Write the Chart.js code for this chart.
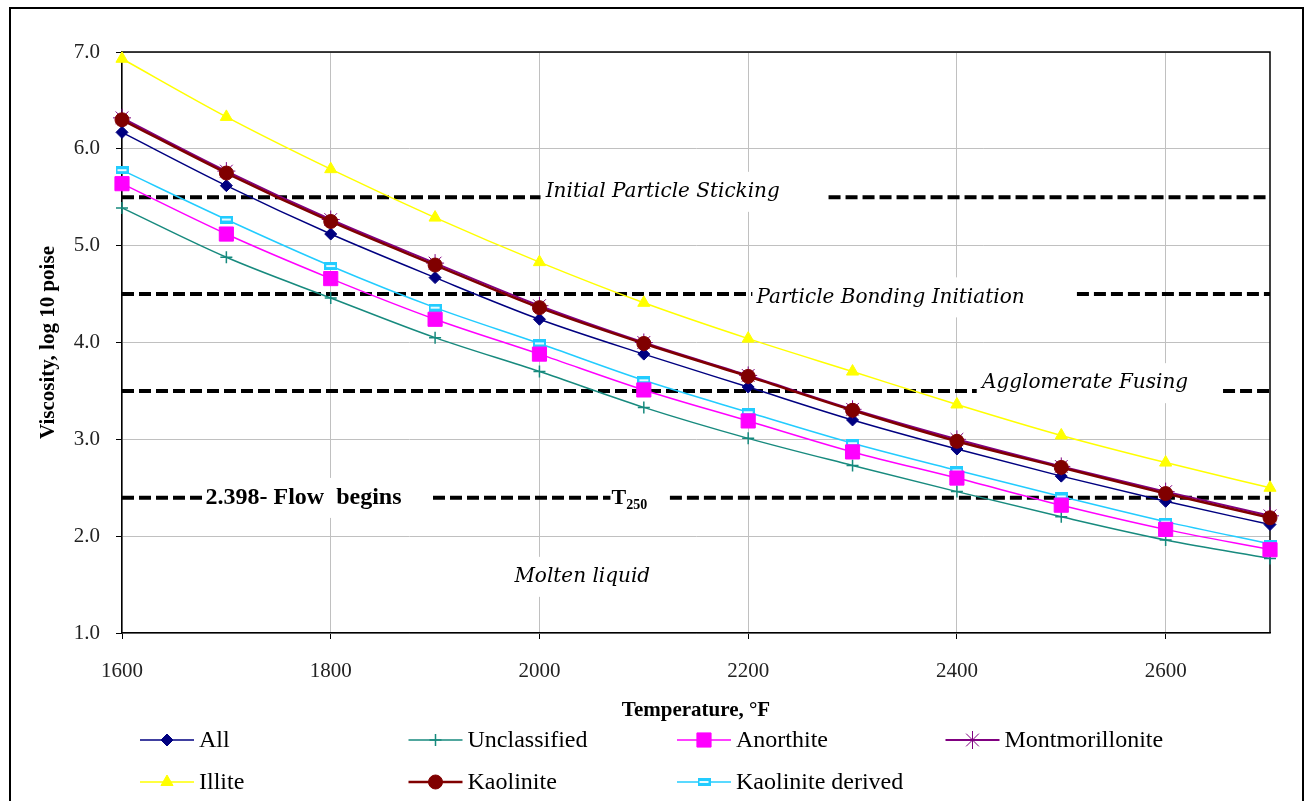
<!DOCTYPE html>
<html>
<head>
<meta charset="utf-8">
<title>Viscosity vs temperature</title>
<script src="https://cdn.jsdelivr.net/npm/chart.js@4/dist/chart.umd.min.js"></script>
<style>
  html, body { margin: 0; padding: 0; background: #fff; }
  #frame { position: absolute; left: 9px; top: 7px; width: 1291px; height: 800px; border: 2px solid #000; }
  canvas { position: absolute; left: 0; top: 0; }
</style>
</head>
<body>
<div id="frame"></div>
<canvas id="viscosityChart" width="1304" height="801"></canvas>
<script>
// temperatures, °F
const temps = [1600, 1700, 1800, 1900, 2000, 2100, 2200, 2300, 2400, 2500, 2600, 2700];

// viscosity, log10 poise
const allValues = [6.17, 5.62, 5.12, 4.67, 4.24, 3.88, 3.54, 3.20, 2.90, 2.62, 2.36, 2.12];
const unclassifiedValues = [5.39, 4.88, 4.46, 4.05, 3.70, 3.33, 3.01, 2.73, 2.46, 2.20, 1.96, 1.77];
const anorthiteValues = [5.64, 5.12, 4.66, 4.24, 3.88, 3.51, 3.19, 2.87, 2.60, 2.32, 2.07, 1.86];
const montmorilloniteValues = [6.32, 5.77, 5.27, 4.82, 4.38, 4.00, 3.66, 3.31, 3.00, 2.72, 2.46, 2.21];
const illiteValues = [6.93, 6.33, 5.79, 5.29, 4.83, 4.41, 4.04, 3.70, 3.36, 3.04, 2.76, 2.50];
const kaoliniteValues = [6.30, 5.75, 5.25, 4.80, 4.36, 3.99, 3.65, 3.30, 2.98, 2.71, 2.44, 2.19];
const kaoliniteDerivedValues = [5.78, 5.27, 4.79, 4.36, 3.99, 3.61, 3.28, 2.96, 2.68, 2.41, 2.15, 1.92];

const xTicks = [1600, 1800, 2000, 2200, 2400, 2600];
const yTicks = [1, 2, 3, 4, 5, 6, 7];

// threshold levels and their labels
const refLevels = [5.5, 4.5, 3.5, 2.398];
const refLabels = ['Initial Particle Sticking', 'Particle Bonding Initiation', 'Agglomerate Fusing', '2.398- Flow  begins'];

// where the dashes run (°F), gaps are left for the labels
const refSegments = [
  [[1600, 2001], [2277, 2700]],
  [[1600, 2204], [2515, 2700]],
  [[1600, 2419], [2655, 2700]],
  [[1600, 1678], [1898, 2068], [2125, 2700]]
];
const ITALIC = 'italic 20px "DejaVu Serif"';
const labelSpots = [
  { x: 2006, y: 5.556, font: ITALIC },
  { x: 2208, y: 4.466, font: ITALIC },
  { x: 2424, y: 3.58, font: ITALIC },
  { x: 1680, y: 2.395, font: 'bold 24px "Liberation Serif"' }
];

const SERIF = '"Liberation Serif", "Times New Roman", serif';

function barMarker() {
  const c = document.createElement('canvas');
  c.width = 13; c.height = 8;
  const g = c.getContext('2d');
  g.fillStyle = '#22ccff';
  g.fillRect(0, 0, 13, 8);
  g.fillStyle = '#e8fbff';
  g.fillRect(2, 3, 9, 2);
  return c;
}

function series(label, values, color, style, radius, extra) {
  return Object.assign({
    label: label,
    data: temps.map((t, i) => ({ x: t, y: values[i] })),
    borderColor: color,
    backgroundColor: color,
    pointBackgroundColor: color,
    pointBorderColor: color,
    borderWidth: 1.5,
    pointStyle: style,
    pointRadius: radius,
    pointBorderWidth: 1,
    cubicInterpolationMode: 'monotone',
    clip: false
  }, extra || {});
}

const datasets = [
  series('All', allValues, '#000080', 'rectRot', 6, { order: 3 }),
  series('Unclassified', unclassifiedValues, '#178a7e', 'cross', 6, { pointBorderWidth: 1.5, order: 6 }),
  series('Anorthite', anorthiteValues, '#ff00ff', 'rect', 10, { order: 4 }),
  series('Montmorillonite', montmorilloniteValues, '#800080', 'star', 9, { borderWidth: 2, order: 2 }),
  series('Illite', illiteValues, '#ffff00', 'triangle', 7, { order: 1 }),
  series('Kaolinite', kaoliniteValues, '#800000', 'circle', 7, { borderWidth: 2.5, order: 0 }),
  series('Kaolinite derived', kaoliniteDerivedValues, '#22ccff', barMarker(), 6, { order: 5 })
];

const annotations = {
  id: 'annotations',
  beforeDatasetsDraw(chart) {
    const { ctx, chartArea: a, scales: { x, y } } = chart;
    ctx.save();
    // top and right frame of the plot
    ctx.strokeStyle = '#000';
    ctx.lineWidth = 1.5;
    ctx.beginPath();
    ctx.moveTo(a.left, a.top);
    ctx.lineTo(a.right, a.top);
    ctx.lineTo(a.right, a.bottom);
    ctx.stroke();

    ctx.textBaseline = 'middle';
    ctx.textAlign = 'left';
    const boxes = [];
    labelSpots.forEach((s, i) => {
      ctx.font = s.font;
      boxes.push({ text: refLabels[i], font: s.font, px: x.getPixelForValue(s.x), py: y.getPixelForValue(s.y), w: ctx.measureText(refLabels[i]).width });
    });
    // T250 and molten liquid
    const tX = x.getPixelForValue(2069), tY = y.getPixelForValue(2.39);
    const mX = x.getPixelForValue(2041), mY = y.getPixelForValue(1.58);

    // white boxes behind labels
    ctx.fillStyle = '#fff';
    boxes.forEach(b => ctx.fillRect(b.px - 3, b.py - 20, b.w + 6, 40));
    ctx.fillRect(tX - 3, tY - 18, 46, 36);
    ctx.font = ITALIC;
    const mW = ctx.measureText('Molten liquid').width;
    ctx.fillRect(mX - mW / 2 - 4, mY - 20, mW + 8, 40);

    // dashed threshold lines
    ctx.strokeStyle = '#000';
    ctx.lineWidth = 4;
    ctx.setLineDash([12, 5]);
    refLevels.forEach((lv, i) => {
      const py = y.getPixelForValue(lv);
      refSegments[i].forEach(seg => {
        ctx.beginPath();
        ctx.moveTo(x.getPixelForValue(seg[0]), py);
        ctx.lineTo(x.getPixelForValue(seg[1]), py);
        ctx.stroke();
      });
    });
    ctx.setLineDash([]);

    ctx.fillStyle = '#000';
    boxes.forEach(b => { ctx.font = b.font; ctx.fillText(b.text, b.px, b.py); });
    ctx.font = 'bold 22px "Liberation Serif"';
    ctx.fillText('T', tX, tY);
    const tw = ctx.measureText('T').width;
    ctx.font = 'bold 14px "Liberation Serif"';
    ctx.fillText('250', tX + tw, tY + 7);
    ctx.font = ITALIC;
    ctx.textAlign = 'center';
    ctx.fillText('Molten liquid', mX, mY);
    ctx.restore();
  }
};

const gridLegend = {
  id: 'gridLegend',
  afterDraw(chart) {
    const ctx = chart.ctx;
    ctx.save();
    ctx.fillStyle = '#fff';
    ctx.fillRect(100, 721, 1190, 78);
    ctx.textBaseline = 'middle';
    ctx.textAlign = 'left';
    chart.data.datasets.forEach((ds, i) => {
      const col = i % 4, row = Math.floor(i / 4);
      const lx = 140 + col * 268.5, ly = 740 + row * 42;
      ctx.strokeStyle = ds.borderColor;
      ctx.lineWidth = ds.borderWidth;
      ctx.beginPath();
      ctx.moveTo(lx, ly);
      ctx.lineTo(lx + 54, ly);
      ctx.stroke();
      ctx.fillStyle = ds.pointBackgroundColor;
      ctx.strokeStyle = ds.pointBorderColor;
      ctx.lineWidth = ds.pointBorderWidth;
      if (Chart.helpers && Chart.helpers.drawPoint) {
        Chart.helpers.drawPoint(ctx, { pointStyle: ds.pointStyle, radius: ds.pointRadius, rotation: 0, borderWidth: ds.pointBorderWidth }, lx + 27, ly);
      }
      ctx.fillStyle = '#000';
      ctx.font = '24px ' + SERIF;
      ctx.fillText(ds.label, lx + 59, ly + 1);
    });
    ctx.restore();
  }
};

new Chart(document.getElementById('viscosityChart').getContext('2d'), {
  type: 'line',
  data: { datasets: datasets },
  options: {
    responsive: false,
    animation: false,
    events: [],
    layout: { padding: { left: 36, top: 52, right: 34, bottom: 78 } },
    plugins: { legend: { display: false }, tooltip: { enabled: false } },
    scales: {
      x: {
        type: 'linear',
        min: 1600,
        max: 2700,
        afterBuildTicks: s => { s.ticks = xTicks.map(v => ({ value: v })); },
        afterFit: s => { s.height = 90; },
        grid: { color: '#c0c0c0', tickColor: '#000', tickLength: 6, lineWidth: 1 },
        border: { color: '#000', width: 1.5 },
        ticks: { padding: 20, color: '#222', maxRotation: 0, font: { family: SERIF, size: 21 }, callback: v => String(v) },
        title: { display: true, text: 'Temperature, °F', color: '#000', padding: 0, font: { family: SERIF, size: 21, weight: 'bold' } }
      },
      y: {
        min: 1,
        max: 7,
        afterBuildTicks: s => { s.ticks = yTicks.map(v => ({ value: v })); },
        afterFit: s => { s.width = 86; },
        grid: { color: '#c0c0c0', tickColor: '#000', tickLength: 6, lineWidth: 1 },
        border: { color: '#000', width: 1.5 },
        ticks: { padding: 16, color: '#222', font: { family: SERIF, size: 21 }, callback: v => Number(v).toFixed(1) },
        title: { display: true, text: 'Viscosity, log 10 poise', color: '#000', padding: 0, font: { family: SERIF, size: 21, weight: 'bold' } }
      }
    }
  },
  plugins: [annotations, gridLegend]
});
</script>
</body>
</html>
